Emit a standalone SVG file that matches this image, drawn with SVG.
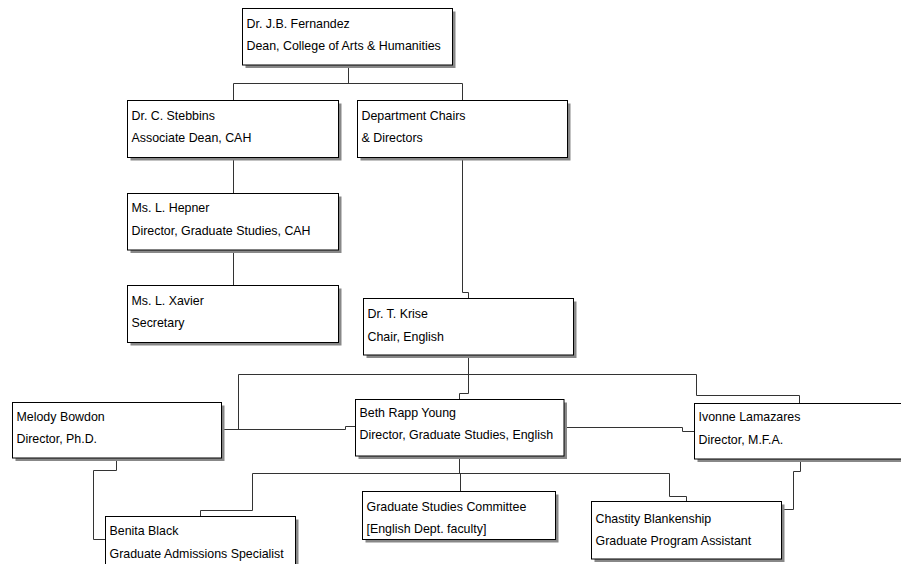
<svg xmlns="http://www.w3.org/2000/svg" width="901" height="564" viewBox="0 0 901 564">
<style>
.sh{fill:#888888;stroke:none}
.bx{fill:#ffffff;stroke:#000000;stroke-width:1}
.t{font-family:"Liberation Sans",Arial,sans-serif;font-size:12.4px;fill:#000000}
.c{fill:none;stroke:#333333;stroke-width:1}
</style>
<rect x="0" y="0" width="901" height="564" fill="#ffffff"/>
<g id="connectors">
<path class="c" d="M348.5,65 V83.5 M233.5,83.5 H462.5 M233.5,83.5 V100.5 M462.5,83.5 V100.5"/>
<path class="c" d="M233.5,157.5 V193.5 M233.5,250 V285.5"/>
<path class="c" d="M462.5,157.5 V292.5 H468.5 V298.5"/>
<path class="c" d="M468.5,355 V374.5 M238.5,374.5 H696.5 M238.5,374.5 V429.5"/>
<path class="c" d="M222,429.5 H345.5 V426.5 H355.5"/>
<path class="c" d="M468.5,374.5 V393.5 H459.5 V399.5"/>
<path class="c" d="M696.5,374.5 V395.5 H799.5 V403.5"/>
<path class="c" d="M564,427.5 H682.5 V431.5 H694.5"/>
<path class="c" d="M459.5,456 V473.5 M252.5,473.5 H669.5 M460.5,473.5 V491.5"/>
<path class="c" d="M669.5,473.5 V496.5 H686.5 V501.5"/>
<path class="c" d="M252.5,473.5 V510.5 H200.5 V516.5"/>
<path class="c" d="M116.5,458 V470.5 H93.5 V539.5 H105.5"/>
<path class="c" d="M800.5,459 V471.5 H793.5 V509.5 H781.5"/>
</g>
<g id="fernandez">
<rect class="sh" x="245.5" y="11.5" width="210" height="56.5"/>
<rect class="bx" x="242.5" y="8.5" width="210" height="56.5"/>
<text class="t" x="246.5" y="27.5">Dr. J.B. Fernandez</text>
<text class="t" x="246.5" y="50">Dean, College of Arts &amp; Humanities</text>
</g>
<g id="stebbins">
<rect class="sh" x="130.5" y="103.5" width="211" height="57"/>
<rect class="bx" x="127.5" y="100.5" width="211" height="57"/>
<text class="t" x="131.5" y="119.5">Dr. C. Stebbins</text>
<text class="t" x="131.5" y="142">Associate Dean, CAH</text>
</g>
<g id="dept-chairs">
<rect class="sh" x="360.5" y="103.5" width="210" height="57"/>
<rect class="bx" x="357.5" y="100.5" width="210" height="57"/>
<text class="t" x="361.5" y="119.5">Department Chairs</text>
<text class="t" x="361.5" y="142">&amp; Directors</text>
</g>
<g id="hepner">
<rect class="sh" x="130.5" y="196.5" width="211" height="56.5"/>
<rect class="bx" x="127.5" y="193.5" width="211" height="56.5"/>
<text class="t" x="131.5" y="212">Ms. L. Hepner</text>
<text class="t" x="131.5" y="234.5">Director, Graduate Studies, CAH</text>
</g>
<g id="xavier">
<rect class="sh" x="130.5" y="288.5" width="211" height="57"/>
<rect class="bx" x="127.5" y="285.5" width="211" height="57"/>
<text class="t" x="131.5" y="304.5">Ms. L. Xavier</text>
<text class="t" x="131.5" y="327">Secretary</text>
</g>
<g id="krise">
<rect class="sh" x="366.5" y="301.5" width="210" height="56.5"/>
<rect class="bx" x="363.5" y="298.5" width="210" height="56.5"/>
<text class="t" x="367.5" y="318">Dr. T. Krise</text>
<text class="t" x="367.5" y="341">Chair, English</text>
</g>
<g id="melody">
<rect class="sh" x="15.5" y="405.5" width="209" height="55.5"/>
<rect class="bx" x="12.5" y="402.5" width="209" height="55.5"/>
<text class="t" x="16.5" y="421">Melody Bowdon</text>
<text class="t" x="16.5" y="443">Director, Ph.D.</text>
</g>
<g id="beth">
<rect class="sh" x="358.5" y="402.5" width="208.5" height="56.5"/>
<rect class="bx" x="355.5" y="399.5" width="208.5" height="56.5"/>
<text class="t" x="359.5" y="417">Beth Rapp Young</text>
<text class="t" x="359.5" y="438.5">Director, Graduate Studies, English</text>
</g>
<g id="ivonne">
<rect class="sh" x="697.5" y="406.5" width="210" height="55.5"/>
<rect class="bx" x="694.5" y="403.5" width="210" height="55.5"/>
<text class="t" x="698.5" y="421">Ivonne Lamazares</text>
<text class="t" x="698.5" y="443.5">Director, M.F.A.</text>
</g>
<g id="benita">
<rect class="sh" x="108.5" y="519.5" width="190" height="58"/>
<rect class="bx" x="105.5" y="516.5" width="190" height="58"/>
<text class="t" x="109.5" y="535">Benita Black</text>
<text class="t" x="109.5" y="558">Graduate Admissions Specialist</text>
</g>
<g id="committee">
<rect class="sh" x="365.5" y="494.5" width="193" height="48"/>
<rect class="bx" x="362.5" y="491.5" width="193" height="48"/>
<text class="t" x="366.5" y="511">Graduate Studies Committee</text>
<text class="t" x="366.5" y="533">[English Dept. faculty]</text>
</g>
<g id="chastity">
<rect class="sh" x="594.5" y="504.5" width="190" height="57.5"/>
<rect class="bx" x="591.5" y="501.5" width="190" height="57.5"/>
<text class="t" x="595.5" y="522.5">Chastity Blankenship</text>
<text class="t" x="595.5" y="544.5">Graduate Program Assistant</text>
</g>
</svg>
